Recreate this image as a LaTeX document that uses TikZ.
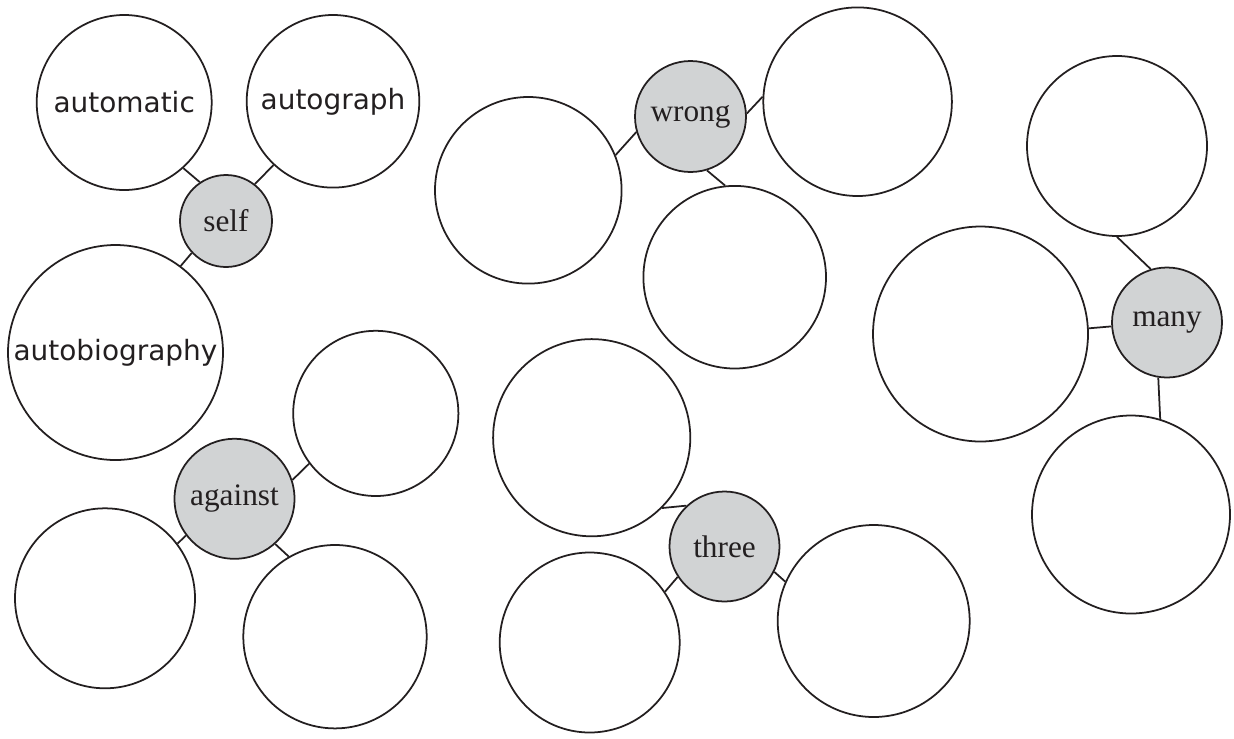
\documentclass[tikz,border=0pt]{standalone}
\usepackage{fontspec}
\setmainfont{Liberation Serif}
\newfontfamily\handfont{DejaVu Sans}
\definecolor{Ink}{HTML}{231F20}
\definecolor{HubGray}{HTML}{D1D3D4}

\begin{document}
\begin{tikzpicture}[
  x=0.2mm,y=-0.2mm,
  bubble/.style={circle,draw=Ink,line width=1pt,fill=white,inner sep=0pt,minimum size=#1*0.4mm,text=Ink,font=\handfont\fontsize{15.9}{18}\selectfont},
  hub/.style={circle,draw=Ink,line width=1pt,fill=HubGray,inner sep=0pt,minimum size=#1*0.4mm,text=Ink,font=\fontsize{17.8}{20}\selectfont},
  link/.style={draw=Ink,line width=1pt}
]
\useasboundingbox (0,0) rectangle (1234,738);
% self
\node[hub=46] (self) at (226,221) {self};
\node[bubble=87.5] (automatic) at (124.2,102.5) {automatic};
\node[bubble=86.3] (autograph) at (333,101.3) {autograph};
\node[bubble=107.5] (autobiography) at (115.5,352.5) {autobiography};
% against
\node[hub=60] (against) at (234.5,498.8) {against};
\node[bubble=82.6] (againstne) at (375.8,413.4) {};
\node[bubble=90] (againstsw) at (105,598.3) {};
\node[bubble=91.7] (againstse) at (335,636.7) {};
% wrong
\node[hub=55.5] (wrong) at (690.5,116.5) {wrong};
\node[bubble=93.3] (wrongw) at (528.3,190.3) {};
\node[bubble=94.3] (wrongne) at (857.6,101.7) {};
\node[bubble=91.3] (wrongs) at (734.7,277.2) {};
% three
\node[hub=55] (three) at (724.5,546.5) {three};
\node[bubble=98.6] (threenw) at (591.7,437.7) {};
\node[bubble=90] (threesw) at (589.7,642.5) {};
\node[bubble=96] (threese) at (873.7,621) {};
% many
\node[hub=55] (many) at (1167,322.5) {many};
\node[bubble=90] (manyn) at (1117,146) {};
\node[bubble=107.5] (manyw) at (980.5,334) {};
\node[bubble=99] (manys) at (1131,514.5) {};
% links
\draw[link] (automatic.312.5) -- (self.124.2);
\draw[link] (autograph.227.1) -- (self.52.4);
\draw[link] (autobiography.53.3) -- (self.223.9);
\draw[link] (againstne.217.8) -- (against.18.4);
\draw[link] (againstsw.37.3) -- (against.217);
\draw[link] (againstse.120.5) -- (against.312.8);
\draw[link] (wrongw.22.6) -- (wrong.196.2);
\draw[link] (wrongne.177) -- (wrong.3.4);
\draw[link] (wrongs.96.6) -- (wrong.287.2);
\draw[link] (threenw.315.6) -- (three.133.6);
\draw[link] (threesw.34.8) -- (three.213.3);
\draw[link] (threese.156.4) -- (three.333);
\draw[link] (manyn.270) -- (many.107.6);
\draw[link] (manyw.3.7) -- (many.184.7);
\draw[link] (manys.73.9) -- (many.261.1);
\end{tikzpicture}
\end{document}
